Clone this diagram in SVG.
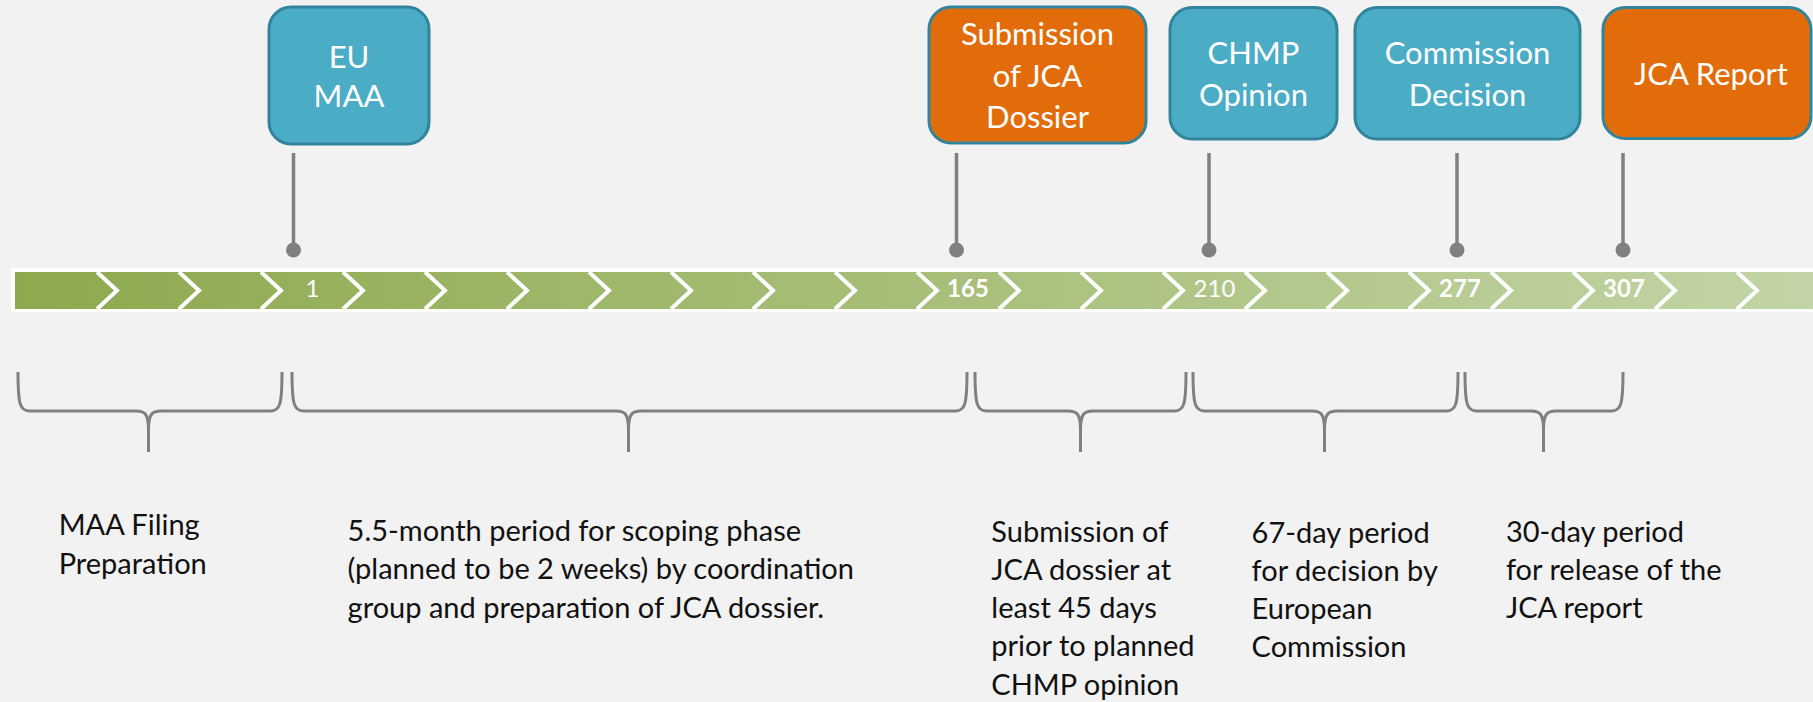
<svg xmlns="http://www.w3.org/2000/svg" width="1813" height="702" viewBox="0 0 1813 702">
<defs>
<linearGradient id="barg" x1="15" y1="0" x2="1813" y2="0" gradientUnits="userSpaceOnUse">
<stop offset="0" stop-color="#8DA94D"/>
<stop offset="1" stop-color="#C2D4A5"/>
</linearGradient>
<style>
.box{stroke:#31849B;stroke-width:3}
.blue{fill:#4BACC6}
.orange{fill:#E36C0A}
.bt{font-family:Lato,"Liberation Sans",sans-serif;font-size:31px;fill:#fff;text-anchor:middle}
.pin{stroke:#808080;stroke-width:3.5}
.dot{fill:#808080}
.sep{fill:none;stroke:#fff;stroke-width:4}
.num{font-family:Lato,"Liberation Sans",sans-serif;font-size:24px;fill:#fff;text-anchor:middle}
.brace{fill:none;stroke:#808080;stroke-width:3}
.lbl{font-family:Lato,"Liberation Sans",sans-serif;font-size:29px;fill:#111}
</style>
</defs>
<rect width="1813" height="702" fill="#F2F2F2"/>

<g id="timeline">
<rect x="11" y="268" width="1810" height="44" fill="#fff"/>
<rect x="15" y="272" width="1800" height="37" fill="url(#barg)"/>
<g class="sep">
<polyline points="97,272 117,290.5 97,309"/>
<polyline points="179,272 199,290.5 179,309"/>
<polyline points="261,272 281,290.5 261,309"/>
<polyline points="343,272 363,290.5 343,309"/>
<polyline points="425,272 445,290.5 425,309"/>
<polyline points="507,272 527,290.5 507,309"/>
<polyline points="589,272 609,290.5 589,309"/>
<polyline points="671,272 691,290.5 671,309"/>
<polyline points="753,272 773,290.5 753,309"/>
<polyline points="835,272 855,290.5 835,309"/>
<polyline points="917,272 937,290.5 917,309"/>
<polyline points="999,272 1019,290.5 999,309"/>
<polyline points="1081,272 1101,290.5 1081,309"/>
<polyline points="1163,272 1183,290.5 1163,309"/>
<polyline points="1245,272 1265,290.5 1245,309"/>
<polyline points="1327,272 1347,290.5 1327,309"/>
<polyline points="1409,272 1429,290.5 1409,309"/>
<polyline points="1491,272 1511,290.5 1491,309"/>
<polyline points="1573,272 1593,290.5 1573,309"/>
<polyline points="1655,272 1675,290.5 1655,309"/>
<polyline points="1737,272 1757,290.5 1737,309"/>
</g>
<text class="num" x="312.5" y="297">1</text>
<text class="num" x="968" y="297" font-weight="bold">165</text>
<text class="num" x="1214.5" y="297">210</text>
<text class="num" x="1460" y="297" font-weight="bold">277</text>
<text class="num" x="1624" y="297" font-weight="bold">307</text>
</g>

<g id="connectors">
<line class="pin" x1="293.5" y1="153" x2="293.5" y2="250"/>
<circle class="dot" cx="293.5" cy="250" r="7.5"/>
<line class="pin" x1="956.5" y1="153" x2="956.5" y2="250"/>
<circle class="dot" cx="956.5" cy="250" r="7.5"/>
<line class="pin" x1="1209" y1="153" x2="1209" y2="250"/>
<circle class="dot" cx="1209" cy="250" r="7.5"/>
<line class="pin" x1="1457" y1="153" x2="1457" y2="250"/>
<circle class="dot" cx="1457" cy="250" r="7.5"/>
<line class="pin" x1="1623" y1="153" x2="1623" y2="250"/>
<circle class="dot" cx="1623" cy="250" r="7.5"/>
</g>

<g id="eu-maa">
<rect class="box blue" x="269" y="7" width="160" height="137" rx="22"/>
<text class="bt" x="349" y="68">EU</text>
<text class="bt" x="349" y="107">MAA</text>
</g>
<g id="submission-jca">
<rect class="box orange" x="929" y="7" width="217" height="136" rx="22"/>
<text class="bt" x="1037.5" y="45">Submission</text>
<text class="bt" x="1037.5" y="86.5">of JCA</text>
<text class="bt" x="1037.5" y="127.5">Dossier</text>
</g>
<g id="chmp-opinion">
<rect class="box blue" x="1170" y="7.5" width="167" height="131.5" rx="22"/>
<text class="bt" x="1253.5" y="63.5">CHMP</text>
<text class="bt" x="1253.5" y="106">Opinion</text>
</g>
<g id="commission-decision">
<rect class="box blue" x="1355" y="7.5" width="225" height="131.5" rx="22"/>
<text class="bt" x="1467.5" y="63.5">Commission</text>
<text class="bt" x="1467.5" y="106">Decision</text>
</g>
<g id="jca-report">
<rect class="box orange" x="1603" y="7.5" width="208" height="131" rx="22"/>
<text class="bt" x="1711" y="85">JCA Report</text>
</g>

<g id="braces" class="brace">
<path d="M18,372 C18,405 20,411 30,411 L136,411 C145,411 148.5,414 148.5,430 L148.5,452 M148.5,430 C148.5,414 152,411 161,411 L270,411 C280,411 282,405 282,372"/>
<path d="M292,372 C292,405 294,411 304,411 L616,411 C625,411 628.5,414 628.5,430 L628.5,452 M628.5,430 C628.5,414 632,411 641,411 L955,411 C965,411 967,405 967,372"/>
<path d="M975,372 C975,405 977,411 987,411 L1068,411 C1077,411 1080.5,414 1080.5,430 L1080.5,452 M1080.5,430 C1080.5,414 1084,411 1093,411 L1174,411 C1184,411 1186,405 1186,372"/>
<path d="M1193,372 C1193,405 1195,411 1205,411 L1312,411 C1321,411 1324.5,414 1324.5,430 L1324.5,452 M1324.5,430 C1324.5,414 1328,411 1337,411 L1446,411 C1456,411 1458,405 1458,372"/>
<path d="M1465,372 C1465,405 1467,411 1477,411 L1531,411 C1540,411 1543.5,414 1543.5,430 L1543.5,452 M1543.5,430 C1543.5,414 1547,411 1556,411 L1611,411 C1621,411 1623,405 1623,372"/>
</g>

<g id="labels" class="lbl">
<text x="58.7" y="535">MAA Filing</text>
<text x="58.7" y="574">Preparation</text>
<text x="347.6" y="541">5.5-month period for scoping phase</text>
<text x="347.6" y="579.3">(planned to be 2 weeks) by coordination</text>
<text x="347.6" y="617.6">group and preparation of JCA dossier.</text>
<text x="991.3" y="541.5">Submission of</text>
<text x="991.3" y="579.8">JCA dossier at</text>
<text x="991.3" y="618.1">least 45 days</text>
<text x="991.3" y="656.4">prior to planned</text>
<text x="991.3" y="694.7">CHMP opinion</text>
<text x="1251.6" y="542.5">67-day period</text>
<text x="1251.6" y="580.8">for decision by</text>
<text x="1251.6" y="619.1">European</text>
<text x="1251.6" y="657.4">Commission</text>
<text x="1505.9" y="541.5">30-day period</text>
<text x="1505.9" y="579.8">for release of the</text>
<text x="1505.9" y="618.1">JCA report</text>
</g>
</svg>
